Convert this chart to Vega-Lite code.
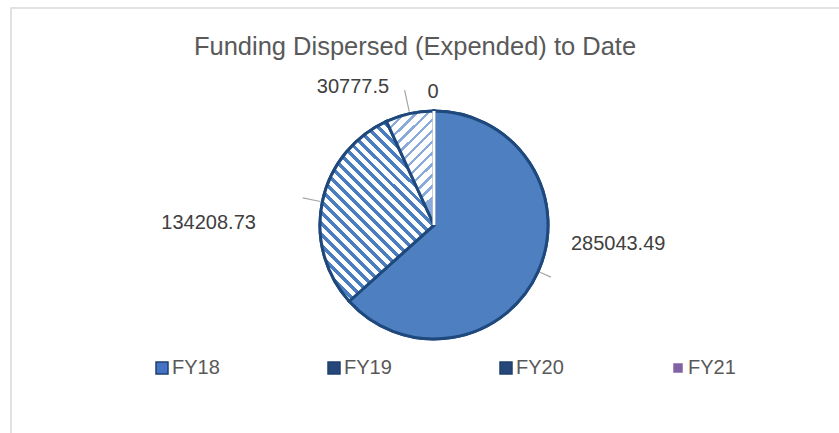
{
  "$schema": "https://vega.github.io/schema/vega-lite/v6.json",
  "width": 846,
  "height": 434,
  "autosize": {"type": "none"},
  "padding": {"left": 11, "top": 8, "right": -18, "bottom": -9},
  "background": "#ffffff",
  "view": {"stroke": "#D9D9D9", "strokeWidth": 1.5, "fill": "#ffffff"},
  "config": {"view": {"stroke": "#D9D9D9", "strokeWidth": 1.5}, "font": "Liberation Sans"},
  "title": {
    "text": "Funding Dispersed (Expended) to Date",
    "fontSize": 25.5,
    "fontWeight": "normal",
    "color": "#595959",
    "font": "Liberation Sans",
    "frame": "group",
    "anchor": "middle",
    "offset": -52,
    "dx": -19
  },
  "data": {
    "values": [
      {"year": "FY18", "value": 285043.49},
      {"year": "FY19", "value": 134208.73},
      {"year": "FY20", "value": 30777.5},
      {"year": "FY21", "value": 0}
    ]
  },
  "transform": [
    {"stack": "value", "groupby": [], "sort": [{"field": "year", "order": "ascending"}], "as": ["v0", "v1"]},
    {"calculate": "(datum.v0 + datum.v1) / 2", "as": "mid"}
  ],
  "layer": [
    {
      "mark": {"type": "arc", "outerRadius": 114, "stroke": "#1F497D", "strokeWidth": 3},
      "encoding": {
        "theta": {"field": "v0", "type": "quantitative", "scale": {"nice": false, "zero": true}},
        "theta2": {"field": "v1"},
        "color": {
          "field": "year",
          "type": "nominal",
          "scale": {"domain": ["FY18", "FY19", "FY20", "FY21"], "range": ["#4472C4", "#25477A", "#25477A", "#8064A2"]},
          "legend": {
            "orient": "none",
            "legendX": 141,
            "legendY": 350,
            "direction": "horizontal",
            "columns": 4,
            "gridAlign": "all",
            "columnPadding": 104,
            "symbolType": "square",
            "symbolSize": 144,
            "symbolStrokeColor": "#1F3F6F",
            "symbolStrokeWidth": 1.5,
            "labelFontSize": 20,
            "labelColor": "#595959",
            "labelFont": "Liberation Sans",
            "labelOffset": 0,
            "title": null,
            "encode": {
              "symbols": {
                "update": {
                  "size": {"signal": "datum.value === 'FY21' ? 64 : 144"},
                  "stroke": {"signal": "datum.value === 'FY21' ? '#8064A2' : '#1F3F6F'"}
                }
              }
            }
          }
        }
      }
    },
    {
      "mark": {"type": "arc", "outerRadius": 114, "strokeWidth": 3},
      "encoding": {
        "theta": {"field": "v0", "type": "quantitative"},
        "theta2": {"field": "v1"},
        "fill": {
          "condition": [
            {"test": "datum.year === 'FY19'", "value": {"gradient": "linear", "x1": 0, "y1": 1, "x2": 0.633, "y2": 0, "stops": [
              {"offset": 0, "color": "#4A7EC0"}, {"offset": 0.0196, "color": "#4A7EC0"}, {"offset": 0.0196, "color": "#FFFFFF"}, {"offset": 0.0435, "color": "#FFFFFF"},
              {"offset": 0.0435, "color": "#4A7EC0"}, {"offset": 0.0631, "color": "#4A7EC0"}, {"offset": 0.0631, "color": "#FFFFFF"}, {"offset": 0.0870, "color": "#FFFFFF"},
              {"offset": 0.0870, "color": "#4A7EC0"}, {"offset": 0.1066, "color": "#4A7EC0"}, {"offset": 0.1066, "color": "#FFFFFF"}, {"offset": 0.1304, "color": "#FFFFFF"},
              {"offset": 0.1304, "color": "#4A7EC0"}, {"offset": 0.1500, "color": "#4A7EC0"}, {"offset": 0.1500, "color": "#FFFFFF"}, {"offset": 0.1739, "color": "#FFFFFF"},
              {"offset": 0.1739, "color": "#4A7EC0"}, {"offset": 0.1935, "color": "#4A7EC0"}, {"offset": 0.1935, "color": "#FFFFFF"}, {"offset": 0.2174, "color": "#FFFFFF"},
              {"offset": 0.2174, "color": "#4A7EC0"}, {"offset": 0.2370, "color": "#4A7EC0"}, {"offset": 0.2370, "color": "#FFFFFF"}, {"offset": 0.2609, "color": "#FFFFFF"},
              {"offset": 0.2609, "color": "#4A7EC0"}, {"offset": 0.2805, "color": "#4A7EC0"}, {"offset": 0.2805, "color": "#FFFFFF"}, {"offset": 0.3043, "color": "#FFFFFF"},
              {"offset": 0.3043, "color": "#4A7EC0"}, {"offset": 0.3239, "color": "#4A7EC0"}, {"offset": 0.3239, "color": "#FFFFFF"}, {"offset": 0.3478, "color": "#FFFFFF"},
              {"offset": 0.3478, "color": "#4A7EC0"}, {"offset": 0.3674, "color": "#4A7EC0"}, {"offset": 0.3674, "color": "#FFFFFF"}, {"offset": 0.3913, "color": "#FFFFFF"},
              {"offset": 0.3913, "color": "#4A7EC0"}, {"offset": 0.4109, "color": "#4A7EC0"}, {"offset": 0.4109, "color": "#FFFFFF"}, {"offset": 0.4348, "color": "#FFFFFF"},
              {"offset": 0.4348, "color": "#4A7EC0"}, {"offset": 0.4544, "color": "#4A7EC0"}, {"offset": 0.4544, "color": "#FFFFFF"}, {"offset": 0.4783, "color": "#FFFFFF"},
              {"offset": 0.4783, "color": "#4A7EC0"}, {"offset": 0.4979, "color": "#4A7EC0"}, {"offset": 0.4979, "color": "#FFFFFF"}, {"offset": 0.5217, "color": "#FFFFFF"},
              {"offset": 0.5217, "color": "#4A7EC0"}, {"offset": 0.5413, "color": "#4A7EC0"}, {"offset": 0.5413, "color": "#FFFFFF"}, {"offset": 0.5652, "color": "#FFFFFF"},
              {"offset": 0.5652, "color": "#4A7EC0"}, {"offset": 0.5848, "color": "#4A7EC0"}, {"offset": 0.5848, "color": "#FFFFFF"}, {"offset": 0.6087, "color": "#FFFFFF"},
              {"offset": 0.6087, "color": "#4A7EC0"}, {"offset": 0.6283, "color": "#4A7EC0"}, {"offset": 0.6283, "color": "#FFFFFF"}, {"offset": 0.6522, "color": "#FFFFFF"},
              {"offset": 0.6522, "color": "#4A7EC0"}, {"offset": 0.6718, "color": "#4A7EC0"}, {"offset": 0.6718, "color": "#FFFFFF"}, {"offset": 0.6957, "color": "#FFFFFF"},
              {"offset": 0.6957, "color": "#4A7EC0"}, {"offset": 0.7153, "color": "#4A7EC0"}, {"offset": 0.7153, "color": "#FFFFFF"}, {"offset": 0.7391, "color": "#FFFFFF"},
              {"offset": 0.7391, "color": "#4A7EC0"}, {"offset": 0.7587, "color": "#4A7EC0"}, {"offset": 0.7587, "color": "#FFFFFF"}, {"offset": 0.7826, "color": "#FFFFFF"},
              {"offset": 0.7826, "color": "#4A7EC0"}, {"offset": 0.8022, "color": "#4A7EC0"}, {"offset": 0.8022, "color": "#FFFFFF"}, {"offset": 0.8261, "color": "#FFFFFF"},
              {"offset": 0.8261, "color": "#4A7EC0"}, {"offset": 0.8457, "color": "#4A7EC0"}, {"offset": 0.8457, "color": "#FFFFFF"}, {"offset": 0.8696, "color": "#FFFFFF"},
              {"offset": 0.8696, "color": "#4A7EC0"}, {"offset": 0.8892, "color": "#4A7EC0"}, {"offset": 0.8892, "color": "#FFFFFF"}, {"offset": 0.9130, "color": "#FFFFFF"},
              {"offset": 0.9130, "color": "#4A7EC0"}, {"offset": 0.9326, "color": "#4A7EC0"}, {"offset": 0.9326, "color": "#FFFFFF"}, {"offset": 0.9565, "color": "#FFFFFF"},
              {"offset": 0.9565, "color": "#4A7EC0"}, {"offset": 0.9761, "color": "#4A7EC0"}, {"offset": 0.9761, "color": "#FFFFFF"}, {"offset": 1, "color": "#FFFFFF"}
            ]}},
            {"test": "datum.year === 'FY20'", "value": {"gradient": "linear", "x1": 0, "y1": 0, "x2": 0.41, "y2": 1, "stops": [
              {"offset": 0, "color": "#FFFFFF"}, {"offset": 0.0583, "color": "#FFFFFF"}, {"offset": 0.0583, "color": "#8AAADB"}, {"offset": 0.0833, "color": "#8AAADB"},
              {"offset": 0.0833, "color": "#FFFFFF"}, {"offset": 0.1417, "color": "#FFFFFF"}, {"offset": 0.1417, "color": "#8AAADB"}, {"offset": 0.1667, "color": "#8AAADB"},
              {"offset": 0.1667, "color": "#FFFFFF"}, {"offset": 0.2250, "color": "#FFFFFF"}, {"offset": 0.2250, "color": "#8AAADB"}, {"offset": 0.2500, "color": "#8AAADB"},
              {"offset": 0.2500, "color": "#FFFFFF"}, {"offset": 0.3083, "color": "#FFFFFF"}, {"offset": 0.3083, "color": "#8AAADB"}, {"offset": 0.3333, "color": "#8AAADB"},
              {"offset": 0.3333, "color": "#FFFFFF"}, {"offset": 0.3917, "color": "#FFFFFF"}, {"offset": 0.3917, "color": "#8AAADB"}, {"offset": 0.4167, "color": "#8AAADB"},
              {"offset": 0.4167, "color": "#FFFFFF"}, {"offset": 0.4750, "color": "#FFFFFF"}, {"offset": 0.4750, "color": "#8AAADB"}, {"offset": 0.5000, "color": "#8AAADB"},
              {"offset": 0.5000, "color": "#FFFFFF"}, {"offset": 0.5583, "color": "#FFFFFF"}, {"offset": 0.5583, "color": "#8AAADB"}, {"offset": 0.5833, "color": "#8AAADB"},
              {"offset": 0.5833, "color": "#FFFFFF"}, {"offset": 0.6417, "color": "#FFFFFF"}, {"offset": 0.6417, "color": "#8AAADB"}, {"offset": 0.6667, "color": "#8AAADB"},
              {"offset": 0.6667, "color": "#FFFFFF"}, {"offset": 0.7250, "color": "#FFFFFF"}, {"offset": 0.7250, "color": "#8AAADB"}, {"offset": 0.7500, "color": "#8AAADB"},
              {"offset": 0.7500, "color": "#FFFFFF"}, {"offset": 0.8083, "color": "#FFFFFF"}, {"offset": 0.8083, "color": "#8AAADB"}, {"offset": 0.8333, "color": "#8AAADB"},
              {"offset": 0.8333, "color": "#FFFFFF"}, {"offset": 0.8917, "color": "#FFFFFF"}, {"offset": 0.8917, "color": "#8AAADB"}, {"offset": 0.9167, "color": "#8AAADB"},
              {"offset": 0.9167, "color": "#FFFFFF"}, {"offset": 0.9750, "color": "#FFFFFF"}, {"offset": 0.9750, "color": "#8AAADB"}, {"offset": 1, "color": "#8AAADB"}
            ]}}
          ],
          "value": "#4D7FC1"
        },
        "stroke": {"condition": {"test": "datum.year === 'FY21'", "value": "#FFFFFF"}, "value": "#1F497D"}
      }
    },
    {
      "transform": [{"filter": "datum.year !== 'FY21'"}],
      "mark": {
        "type": "arc",
        "filled": false,
        "innerRadius": 116,
        "outerRadius": {"expr": "datum.year === 'FY19' ? 134 : datum.year === 'FY20' ? 138 : 128"},
        "stroke": "#A6A6A6",
        "strokeWidth": 1.2
      },
      "encoding": {
        "theta": {"field": "mid", "type": "quantitative"},
        "theta2": {"field": "mid"}
      }
    },
    {
      "mark": {
        "type": "text",
        "radius": 140,
        "fontSize": 20,
        "font": "Liberation Sans",
        "color": "#404040",
        "baseline": "middle",
        "align": {"expr": "datum.year === 'FY18' ? 'left' : datum.year === 'FY21' ? 'center' : 'right'"},
        "dx": {"expr": "datum.year === 'FY18' ? 9 : datum.year === 'FY19' ? -41 : datum.year === 'FY20' ? -15 : -1"},
        "dy": {"expr": "datum.year === 'FY18' ? -38 : datum.year === 'FY19' ? 26 : datum.year === 'FY20' ? -1 : 7"}
      },
      "encoding": {
        "theta": {"field": "mid", "type": "quantitative"},
        "text": {"field": "value", "type": "quantitative", "format": ".2~f"}
      }
    }
  ]
}
